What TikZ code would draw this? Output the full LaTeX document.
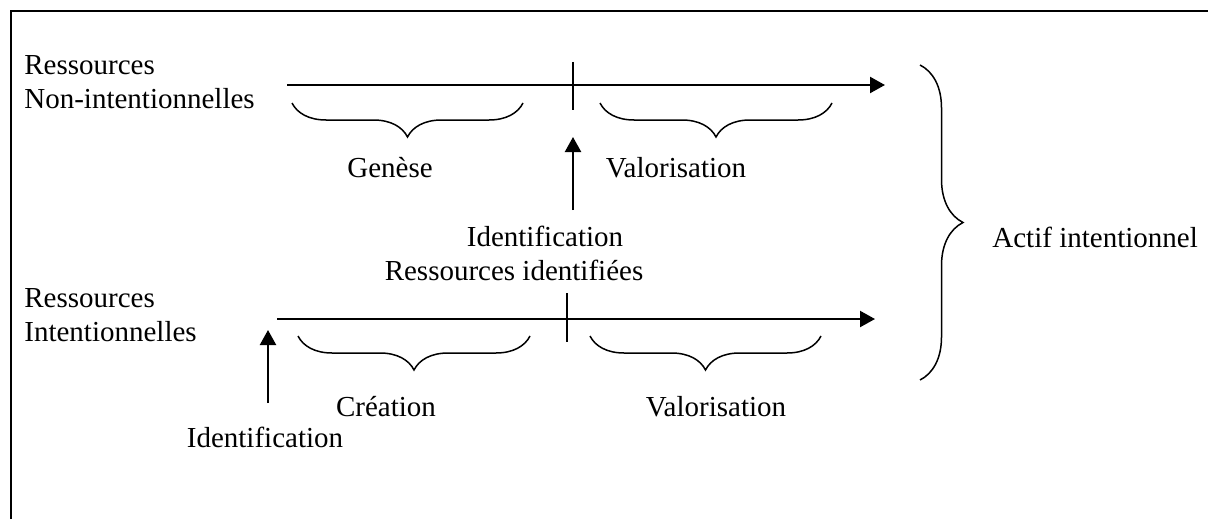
\documentclass[tikz,border=0pt]{standalone}
\usepackage{fontspec}
\setmainfont{Liberation Serif}
\usetikzlibrary{arrows.meta,decorations.pathreplacing}
\tikzset{
	axis/.style={line width=1.1pt,-{Triangle[length=7.5pt,width=8pt]}},
	tickmark/.style={line width=1pt},
	brc/.style={line width=0.75pt,decorate,decoration={brace,amplitude=#1}},
	brc/.default=17pt,
	lbl/.style={inner sep=0pt,font=\fontsize{14.5}{17}\selectfont},
}
\begin{document}
\begin{tikzpicture}[x=0.5pt,y=-0.5pt]
	\useasboundingbox (0,0) rectangle (1208,519);
	% frame, cut on the right and at the bottom
	\draw[line width=1.1pt] (11,519) -- (11,11) -- (1208,11);
	% legends on the left
	\node[lbl,anchor=west,align=left] (rni) at (24,82) {Ressources\\Non-intentionnelles};
	\node[lbl,anchor=west,align=left] (ri) at (24,315) {Ressources\\Intentionnelles};
	% the upper axis
	\coordinate (up0) at (287,85);
	\coordinate (up1) at (885,85);
	\draw[axis] (up0) -- (up1);
	\draw[tickmark] (573,62) -- (573,110);
	% - braces under it
	\draw[brc] (523,103) -- (292,103);
	\draw[brc] (832,103) -- (600,103);
	\node[lbl] (gen) at (390,168) {Genèse};
	\node[lbl] (val1) at (676,168) {Valorisation};
	% identification between both axes
	\node[lbl] (idm) at (545,236) {Identification};
	\node[lbl] (rid) at (514,270) {Ressources identifiées};
	\coordinate (idm0) at (573,210);
	\coordinate (idm1) at (573,137);
	\draw[axis] (idm0) -- (idm1);
	% the lower axis
	\coordinate (lo0) at (277,319);
	\coordinate (lo1) at (875,319);
	\draw[axis] (lo0) -- (lo1);
	\draw[tickmark] (567,293) -- (567,342);
	% - braces under it
	\draw[brc] (530,336) -- (298,336);
	\draw[brc] (821,336) -- (590,336);
	\node[lbl] (cre) at (386,407) {Création};
	\node[lbl] (val2) at (716,407) {Valorisation};
	% identification on the left
	\node[lbl] (idl) at (265,437) {Identification};
	\coordinate (idl0) at (268,403);
	\coordinate (idl1) at (268,330);
	\draw[axis] (idl0) -- (idl1);
	% the big brace
	\draw[brc=21.5pt] (920,65) -- (920,380);
	\node[lbl,anchor=west] (act) at (992,237) {Actif intentionnel};
\end{tikzpicture}
\end{document}
